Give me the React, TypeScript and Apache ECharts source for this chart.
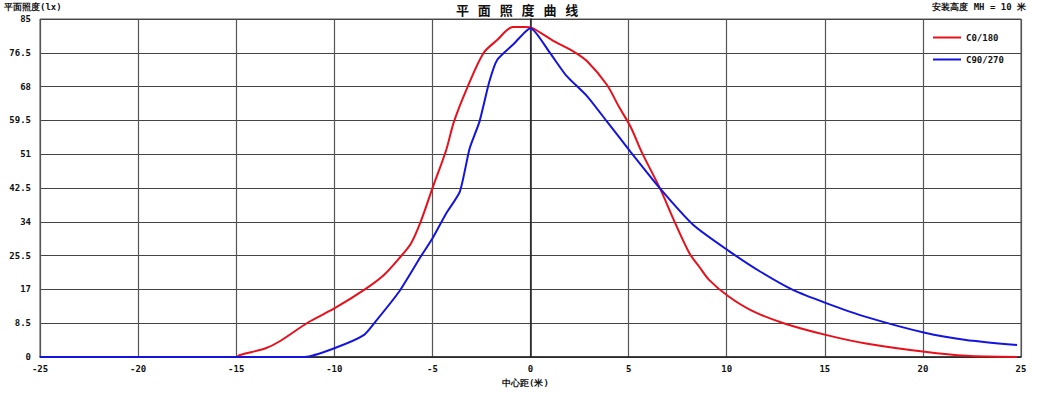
import React, { useEffect, useRef } from "react";
import * as echarts from "echarts";

const seriesNames = ["C0/180", "C90/270"];
const xTicks = { min: -25, max: 25, interval: 5 };
const yTicks = { min: 0, max: 85, interval: 8.5 };

const redData: [number, number][] = [
  [-25, 0], [-15, 0], [-14.8, 0.5], [-13.5, 2.2], [-12.8, 3.9], [-11.3, 8.8], [-10, 12.2],
  [-8.5, 16.8], [-7.5, 20.5], [-6.7, 24.8], [-6.1, 28.5], [-5.6, 34], [-5, 42.4], [-4.3, 52],
  [-3.9, 59.2], [-3.2, 68], [-2.4, 76.4], [-1.7, 79.7], [-0.9, 83], [-0.3, 83], [0.1, 82.7],
  [1.1, 79.7], [2.2, 76.8], [2.9, 74.3], [3.9, 68.4], [4.5, 63], [5.1, 57.9], [5.7, 51.2],
  [6.6, 42.4], [7.3, 34.5], [8.1, 26.1], [8.6, 22.7], [9.1, 19.4], [10.1, 15.2], [11.3, 11.6],
  [12.9, 8.5], [15.1, 5.5], [17.1, 3.4], [20.1, 1.3], [22.2, 0.3], [24.8, 0],
];

const blueData: [number, number][] = [
  [-25, 0], [-11.5, 0], [-10, 2.2], [-8.5, 5.5], [-7.9, 8.9], [-6.7, 16.4], [-5.6, 25.2],
  [-5, 29.8], [-4.3, 36.1], [-3.6, 41.6], [-3.1, 52.5], [-2.6, 59.2], [-2.1, 69.2], [-1.7, 74.7],
  [-0.9, 78.5], [0, 82.7], [1, 76.4], [1.8, 70.9], [2.9, 65.5], [3.9, 59.2], [5.1, 51.6],
  [6.6, 42.4], [8.3, 33.2], [10.1, 26.7], [11.7, 21.5], [13.4, 16.8], [15.1, 13.5], [17.1, 10.1],
  [20.1, 6.1], [22.2, 4.3], [24.8, 3],
];

const titleText = "平   面   照   度   曲   线";
const yAxisTitle = "平面照度(lx)";
const xAxisTitle = "中心距(米)";
const heightNote = "安装高度 MH = 10 米";

const FONT = "'DejaVu Sans Mono', monospace";

export default function App() {
  const ref = useRef<HTMLDivElement>(null);
  useEffect(() => {
    if (!ref.current) return;
    const chart = echarts.init(ref.current, undefined, { renderer: "svg" });
    const labelStyle = { color: "#111", fontSize: 9, fontWeight: "bold" as const, fontFamily: FONT };
    chart.setOption({
      animation: false,
      backgroundColor: "#fff",
      grid: { left: 40, right: 17, top: 19, bottom: 37, show: true, borderColor: "#555", borderWidth: 1 },
      legend: {
        data: seriesNames,
        orient: "vertical",
        left: 928,
        top: 28,
        itemWidth: 28,
        itemHeight: 2,
        itemGap: 13,
        icon: "rect",
        textStyle: labelStyle,
      },
      xAxis: {
        type: "value",
        ...xTicks,
        axisLine: { show: true, lineStyle: { color: "#222", width: 1.5 } },
        axisTick: { show: false },
        axisLabel: { ...labelStyle, margin: 7 },
        splitLine: { show: true, lineStyle: { color: "#555", width: 1.2 } },
      },
      yAxis: {
        type: "value",
        ...yTicks,
        axisLine: { show: true, lineStyle: { color: "#222", width: 1.5 } },
        axisTick: { show: false },
        axisLabel: { ...labelStyle, margin: 9 },
        splitLine: { show: true, lineStyle: { color: "#444", width: 1.2 } },
      },
      graphic: [
        { type: "text", left: 4, top: 2, style: { text: yAxisTitle, fontSize: 9, fontWeight: "bold", fontFamily: FONT, fill: "#111" } },
        { type: "text", left: 456, top: 2, style: { text: titleText, fontSize: 13, lineHeight: 14, fontWeight: "bold", fontFamily: "'Noto Sans CJK SC'", fill: "#111" } },
        { type: "text", right: 12, top: 2, style: { text: heightNote, fontSize: 9, fontWeight: "bold", fontFamily: FONT, fill: "#111" } },
        { type: "text", left: 502, top: 378, style: { text: xAxisTitle, fontSize: 9, fontWeight: "bold", fontFamily: FONT, fill: "#111" } },
      ],
      series: [
        {
          name: seriesNames[0],
          type: "line",
          data: redData,
          showSymbol: false,
          smooth: 0.3,
          lineStyle: { color: "#e8101a", width: 2 },
          itemStyle: { color: "#e8101a" },
        },
        {
          name: seriesNames[1],
          type: "line",
          data: blueData,
          showSymbol: false,
          smooth: 0.2,
          lineStyle: { color: "#1414e0", width: 2 },
          itemStyle: { color: "#1414e0" },
        },
      ],
    });
    return () => chart.dispose();
  }, []);
  return <div ref={ref} style={{ width: 1038, height: 394, position: "absolute", left: 0, top: 0 }} />;
}
